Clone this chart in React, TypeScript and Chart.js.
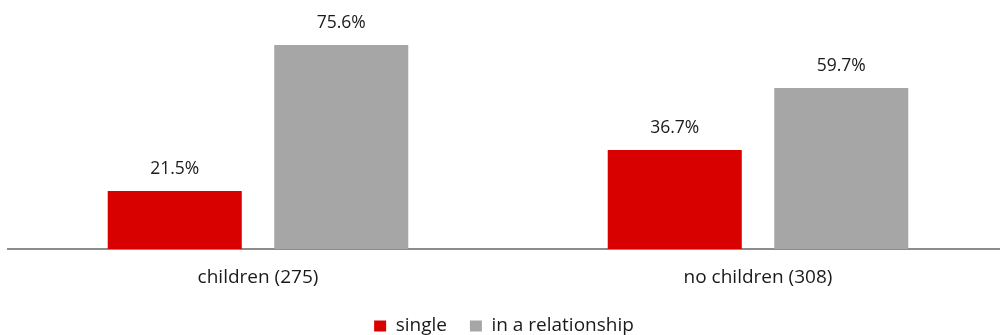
import React, { useEffect, useRef } from "react";
import { Chart, registerables } from "chart.js";

Chart.register(...registerables);

const categories = ["children (275)", "no children (308)"];
const seriesNames = ["single", "in a relationship"];
const singleValues = [21.5, 36.7];
const relationshipValues = [75.6, 59.7];
const seriesColors = ["#d90000", "#a6a6a6"];

const FONT = "'Open Sans', Lato, sans-serif";

// Writes each bar's percentage just above its top edge.
const valueLabels = {
  id: "valueLabels",
  afterDatasetsDraw(chart: any) {
    const { ctx } = chart;
    ctx.save();
    ctx.font = `17.5px ${FONT}`;
    ctx.fillStyle = "#1a1a1a";
    ctx.textAlign = "center";
    ctx.textBaseline = "middle";
    chart.data.datasets.forEach((ds: any, di: number) => {
      const meta = chart.getDatasetMeta(di);
      meta.data.forEach((bar: any, i: number) => {
        const v = ds.data[i].y;
        ctx.fillText(`${v.toFixed(1)}%`, bar.x, bar.y - 22);
      });
    });
    ctx.restore();
  },
};

export default function App() {
  const ref = useRef<HTMLCanvasElement | null>(null);

  useEffect(() => {
    document.body.style.margin = "0";
    const canvas = ref.current;
    if (!canvas) return;
    const toPoints = (vals: number[]) => vals.map((y, i) => ({ x: i, y }));
    const chart = new Chart(canvas, {
      type: "bar",
      data: {
        datasets: [
          {
            label: seriesNames[0],
            data: toPoints(singleValues),
            backgroundColor: seriesColors[0],
          },
          {
            label: seriesNames[1],
            data: toPoints(relationshipValues),
            backgroundColor: seriesColors[1],
          },
        ],
      },
      options: {
        animation: false,
        responsive: false,
        maintainAspectRatio: false,
        layout: { padding: { left: 8, right: 0, top: 0, bottom: -10.5 } },
        datasets: {
          bar: { categoryPercentage: 0.666, barPercentage: 0.805 },
        },
        scales: {
          x: {
            type: "linear",
            offset: false,
            min: -0.5,
            max: -0.5 + 992 / 500,
            afterBuildTicks: (scale: any) => {
              scale.ticks = categories.map((_, i) => ({ value: i }));
            },
            afterFit: (scale: any) => {
              scale.height = 44.5;
            },
            grid: { display: false, drawTicks: false, offset: false },
            border: { display: true, color: "#8c8c8c", width: 2 },
            ticks: {
              padding: 17,
              autoSkip: false,
              maxRotation: 0,
              color: "#1a1a1a",
              font: { family: FONT, size: 19 },
              callback: (v: any) => categories[v as number] ?? "",
            },
          },
          y: {
            display: false,
            min: 0,
            max: 92.3,
          },
        },
        plugins: {
          legend: {
            position: "bottom",
            labels: {
              boxWidth: 12,
              boxHeight: 11,
              padding: 23,
              color: "#1a1a1a",
              font: { family: FONT, size: 19 },
            },
          },
          tooltip: { enabled: false },
        },
      },
      plugins: [valueLabels],
    });
    return () => chart.destroy();
  }, []);

  return <canvas ref={ref} width={1000} height={335} style={{ display: "block" }} />;
}
